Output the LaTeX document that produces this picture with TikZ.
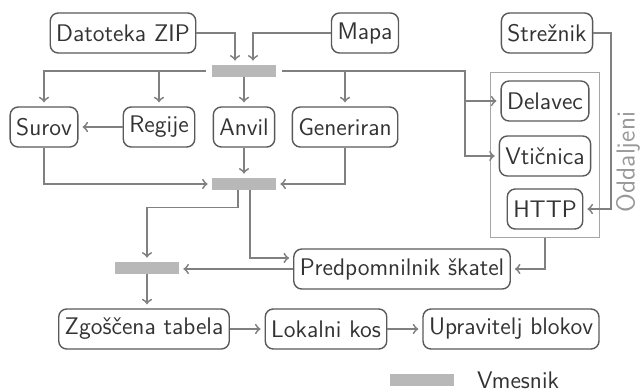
\documentclass[tikz,border=0pt]{standalone}
\usepackage{tikz}
\usetikzlibrary{fit}
\begin{document}
\begin{tikzpicture}[x=0.5pt, y=-0.5pt,
    font=\fontsize{12}{14}\selectfont\sffamily,
    box/.style={draw=black!65, text=black!80, rounded corners=4pt, line width=0.7pt,
        minimum height=20pt, inner xsep=3pt},
    buf/.style={fill=black!28, minimum width=32pt, minimum height=6pt, inner sep=0pt},
    link/.style={->, black!50, line width=0.9pt, shorten >=2pt}]
    \useasboundingbox (0,0) rectangle (640,391);

    \node[box] (zip) at (123,33) {Datoteka ZIP};
    \node[box] (mapa) at (365,33) {Mapa};
    \node[box] (streznik) at (547,33) {Strežnik};

    \node[buf] (buf1) at (244,71) {};
    \node[box] (surov) at (44,127) {Surov};
    \node[box] (regije) at (159,127) {Regije};
    \node[box] (anvil) at (244,127) {Anvil};
    \node[box] (generiran) at (345,127) {Generiran};
    \node[buf] (buf2) at (244,184) {};

    \node[box] (delavec) at (545,101) {Delavec};
    \node[box] (vticnica) at (545,156) {Vtičnica};
    \node[box] (http) at (545,209) {HTTP};
    \node[draw=black!35, line width=0.7pt, inner xsep=4pt, inner ysep=4pt,
        fit=(delavec)(vticnica)(http)] (remote) {};
    \node[rotate=90, inner sep=0pt, text=black!40, font=\fontsize{13}{15}\selectfont\sffamily]
        (remotelabel) at (628,162) {Oddaljeni};

    \node[buf] (buf3) at (147,268) {};
    \node[box] (pred) at (402,269) {Predpomnilnik škatel};
    \node[box] (zgos) at (144,329) {Zgoščena tabela};
    \node[box] (lokal) at (326,329) {Lokalni kos};
    \node[box] (uprav) at (511,329) {Upravitelj blokov};

    \node[buf] (legbuf) at (422,380) {};
    \node[anchor=west, text=black!80] (legtext) at (470,380) {Vmesnik};

    \coordinate (split) at (465,71);

    \draw[link] (zip.east) -| ([xshift=-4.5pt]buf1.north);
    \draw[link] (mapa.west) -| ([xshift=4.5pt]buf1.north);
    \draw[link, shorten <=3pt] (buf1.west) -| (surov.north);
    \draw[link, shorten <=3pt] (buf1.west) -| (regije.north);
    \draw[link] (buf1.south) -- (anvil.north);
    \draw[link, shorten <=3pt] (buf1.east) -| (generiran.north);
    \draw[link, shorten <=3pt] (buf1.east) -- (split) |- (delavec.west);
    \draw[link] (split) |- (vticnica.west);
    \draw[link] (regije.west) -- (surov.east);

    \draw[link] (surov.south) |- (buf2.west);
    \draw[link] (anvil.south) -- (buf2.north);
    \draw[link] (generiran.south) |- (buf2.east);

    \draw[link] ([xshift=-3pt]buf2.south) -- ++(0,17) -| (buf3.north);
    \draw[link] ([xshift=3pt]buf2.south) |- ([yshift=5.5pt]pred.west);
    \draw[link] (pred.west) -- (pred.west -| buf3.east);

    \draw[link] (streznik.east) -- ++(18,0) |- (http.east);
    \draw[link] (remote.south) |- (pred.east);

    \draw[link] (buf3.south) -- (buf3.south |- zgos.north);
    \draw[link] (zgos.east) -- (lokal.west);
    \draw[link] (lokal.east) -- (uprav.west);
\end{tikzpicture}
\end{document}
